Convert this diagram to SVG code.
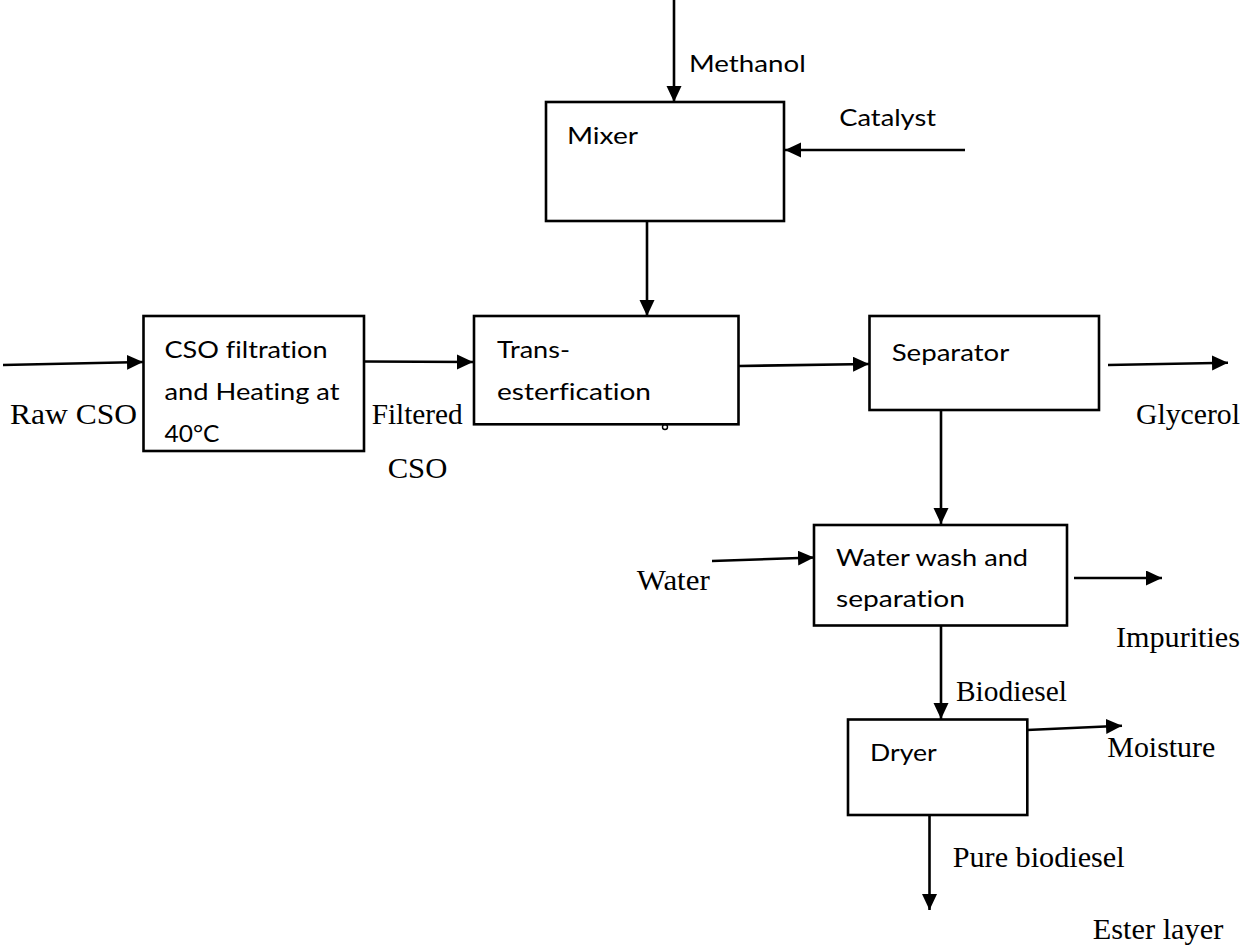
<svg xmlns="http://www.w3.org/2000/svg" width="1242" height="945" viewBox="0 0 1242 945">
<style>
.box{fill:#fff;stroke:#000;stroke-width:2.6}
.ln{fill:none;stroke:#000;stroke-width:2.6;marker-end:url(#ah)}
.s{font-family:Lato,"Liberation Sans",sans-serif;font-size:24px;fill:#000;font-variant-ligatures:none}
.r{font-family:"Liberation Serif","Times New Roman",serif;font-size:30px;fill:#000}
</style>
<defs>
<marker id="ah" markerUnits="userSpaceOnUse" markerWidth="17" markerHeight="16" refX="16" refY="7.5" orient="auto">
<path d="M0,0 L16,7.5 L0,15 z" fill="#000"/>
</marker>
</defs>
<rect width="1242" height="945" fill="#fff"/>
<g id="connectors">
<line class="ln" x1="674" y1="0" x2="674" y2="102"/>
<line class="ln" x1="965" y1="150" x2="785" y2="150"/>
<line class="ln" x1="647" y1="221" x2="647" y2="316"/>
<line class="ln" x1="3" y1="365" x2="143" y2="362"/>
<line class="ln" x1="364" y1="361.5" x2="473" y2="362"/>
<line class="ln" x1="739" y1="366" x2="869" y2="364"/>
<line class="ln" x1="1108" y1="365" x2="1228" y2="362.7"/>
<line class="ln" x1="941" y1="410" x2="941" y2="524"/>
<line class="ln" x1="712" y1="561" x2="814" y2="557.5"/>
<line class="ln" x1="1074" y1="578" x2="1162" y2="578"/>
<line class="ln" x1="941" y1="626" x2="941" y2="719"/>
<line class="ln" x1="1027" y1="730" x2="1122" y2="725.7"/>
<line class="ln" x1="929.5" y1="815" x2="929.5" y2="910"/>
</g>
<g id="mixer">
<rect class="box" x="546" y="102" width="238" height="119"/>
<text class="s" x="567" y="144" textLength="71" lengthAdjust="spacingAndGlyphs">Mixer</text>
</g>
<g id="cso-filtration">
<rect class="box" x="143.5" y="316" width="220.5" height="135"/>
<text class="s" x="164.5" y="358.3" textLength="163" lengthAdjust="spacingAndGlyphs">CSO filtration</text>
<text class="s" x="164.5" y="400" textLength="175" lengthAdjust="spacingAndGlyphs">and Heating at</text>
<text class="s" x="164.5" y="441.7" textLength="55" lengthAdjust="spacingAndGlyphs">40°C</text>
</g>
<g id="transesterification">
<rect class="box" x="474" y="316" width="264.5" height="108.3"/>
<text class="s" x="497" y="358.3" textLength="73" lengthAdjust="spacingAndGlyphs">Trans-</text>
<text class="s" x="497" y="400" textLength="154" lengthAdjust="spacingAndGlyphs">esterfication</text>
<circle cx="665" cy="427" r="2.5" fill="none" stroke="#000" stroke-width="1.4"/>
</g>
<g id="separator">
<rect class="box" x="869.5" y="316" width="229.5" height="94"/>
<text class="s" x="891.7" y="361" textLength="117.6" lengthAdjust="spacingAndGlyphs">Separator</text>
</g>
<g id="water-wash">
<rect class="box" x="814" y="525" width="253" height="100.5"/>
<text class="s" x="836" y="566" textLength="192" lengthAdjust="spacingAndGlyphs">Water wash and</text>
<text class="s" x="836" y="606.7" textLength="129" lengthAdjust="spacingAndGlyphs">separation</text>
</g>
<g id="dryer">
<rect class="box" x="848" y="719.5" width="179.3" height="95.5"/>
<text class="s" x="870" y="761" textLength="66.7" lengthAdjust="spacingAndGlyphs">Dryer</text>
</g>
<g id="labels">
<text class="s" x="689" y="72" textLength="116.7" lengthAdjust="spacingAndGlyphs">Methanol</text>
<text class="s" x="839.3" y="126" textLength="96.7" lengthAdjust="spacingAndGlyphs">Catalyst</text>
<text class="r" x="10" y="424" textLength="127" lengthAdjust="spacingAndGlyphs">Raw CSO</text>
<text class="r" x="371.7" y="424.3" textLength="91" lengthAdjust="spacingAndGlyphs">Filtered</text>
<text class="r" x="387.7" y="478" textLength="59.6" lengthAdjust="spacingAndGlyphs">CSO</text>
<text class="r" x="1136" y="424" textLength="104" lengthAdjust="spacingAndGlyphs">Glycerol</text>
<text class="r" x="636.7" y="590" textLength="73" lengthAdjust="spacingAndGlyphs">Water</text>
<text class="r" x="1116" y="647" textLength="124" lengthAdjust="spacingAndGlyphs">Impurities</text>
<text class="r" x="956" y="700.7" textLength="111" lengthAdjust="spacingAndGlyphs">Biodiesel</text>
<text class="r" x="1107.3" y="756.7" textLength="108" lengthAdjust="spacingAndGlyphs">Moisture</text>
<text class="r" x="952.7" y="866.7" textLength="172" lengthAdjust="spacingAndGlyphs">Pure biodiesel</text>
<text class="r" x="1092.7" y="939.3" textLength="130.6" lengthAdjust="spacingAndGlyphs">Ester layer</text>
</g>
</svg>
